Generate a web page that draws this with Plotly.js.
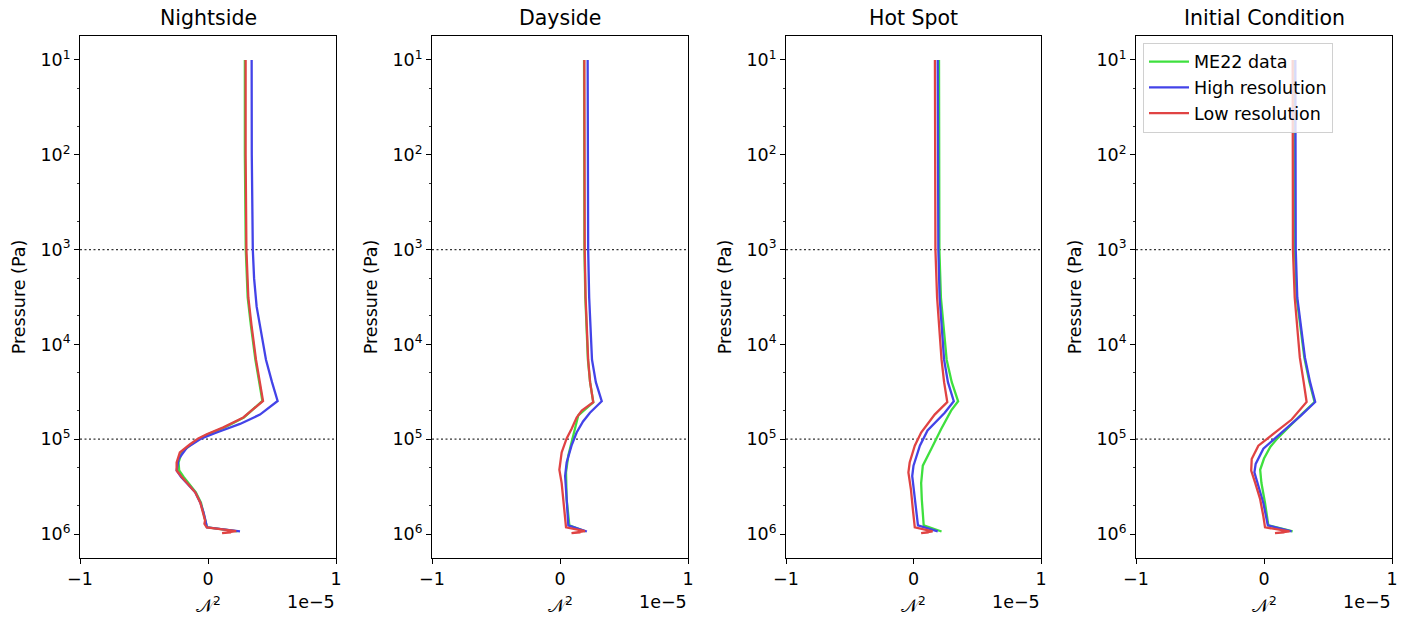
<!DOCTYPE html>
<html>
<head>
<meta charset="utf-8">
<script src="https://cdn.plot.ly/plotly-3.0.1.min.js"></script>
<style>html,body{margin:0;padding:0;background:#fff;}#chart{width:1408px;height:619px;}</style>
</head>
<body>
<div id="chart"></div>
<script>
// ---------------- DATA (N^2 in units of 1e-5, pressure in Pa) ----------------
const panelTitles = ["Nightside", "Dayside", "Hot Spot", "Initial Condition"];
const seriesNames = ["ME22 data", "High resolution", "Low resolution"];
const xTickVals = [-1, 0, 1];
const xTickText = ["\u22121", "0", "1"];
const yTickVals = [1e1, 1e2, 1e3, 1e4, 1e5, 1e6];
const yTickText = ["10<sup>1</sup>", "10<sup>2</sup>", "10<sup>3</sup>", "10<sup>4</sup>", "10<sup>5</sup>", "10<sup>6</sup>"];
const refLevels = [1e3, 1e5];

// Nightside
const nightP_ME22 = [10, 100, 1000, 3.2e3, 6.3e3, 1.45e4, 2.5e4, 3.95e4, 5.9e4, 7.5e4, 8.85e4, 9.8e4, 1.13e5, 1.38e5, 1.76e5, 2.14e5, 2.5e5, 2.86e5, 3.63e5, 4.68e5, 5.9e5, 7.2e5, 8.5e5, 9.4e5];
const nightN_ME22 = [0.288, 0.288, 0.295, 0.31, 0.335, 0.37, 0.40, 0.425, 0.28, 0.13, 0.0, -0.065, -0.13, -0.205, -0.23, -0.225, -0.19, -0.155, -0.095, -0.055, -0.035, -0.02, -0.008, 0.23];
const nightP_High = [10, 100, 1000, 2e3, 4e3, 7.9e3, 1.45e4, 2.5e4, 3.95e4, 5.5e4, 6.9e4, 8.5e4, 9.8e4, 1.23e5, 1.62e5, 2.14e5, 2.5e5, 2.86e5, 3.63e5, 4.68e5, 5.9e5, 7.2e5, 8.5e5, 9.4e5];
const nightN_High = [0.341, 0.342, 0.35, 0.36, 0.38, 0.42, 0.453, 0.50, 0.544, 0.406, 0.25, 0.068, -0.05, -0.166, -0.23, -0.245, -0.21, -0.17, -0.10, -0.06, -0.035, -0.02, -0.008, 0.25];
const nightP_Low = [10, 100, 1000, 3.2e3, 6.3e3, 1.45e4, 2.5e4, 3.95e4, 5.9e4, 7.5e4, 8.85e4, 9.8e4, 1.13e5, 1.38e5, 1.76e5, 2.14e5, 2.5e5, 2.86e5, 3.63e5, 4.68e5, 5.9e5, 6.6e5, 7.2e5, 7.8e5, 8.5e5, 9.3e5, 9.8e5, 9.6e5];
const nightN_Low = [0.294, 0.294, 0.30, 0.315, 0.34, 0.375, 0.405, 0.43, 0.276, 0.12, -0.01, -0.076, -0.14, -0.22, -0.245, -0.245, -0.205, -0.166, -0.10, -0.06, -0.037, -0.03, -0.023, -0.028, -0.01, 0.22, 0.11, 0.18];

// Dayside
const dayP_ME22 = [10, 100, 1000, 3.2e3, 1.45e4, 2.5e4, 4.07e4, 5.6e4, 9.1e4, 1.48e5, 2.24e5, 4.3e5, 8.1e5, 9.4e5];
const dayN_ME22 = [0.188, 0.188, 0.191, 0.198, 0.218, 0.235, 0.26, 0.143, 0.104, 0.065, 0.047, 0.052, 0.073, 0.2];
const dayP_High = [10, 100, 1000, 3.2e3, 1.45e4, 2.5e4, 3.98e4, 5.25e4, 6.5e4, 8.5e4, 1.17e5, 1.76e5, 2.45e5, 4.3e5, 8.1e5, 9.4e5];
const dayN_High = [0.216, 0.216, 0.22, 0.228, 0.25, 0.28, 0.326, 0.234, 0.18, 0.13, 0.09, 0.052, 0.04, 0.052, 0.065, 0.21];
const dayP_Low = [10, 100, 1000, 3.2e3, 1.45e4, 2.5e4, 4.07e4, 5e4, 5.9e4, 7.8e4, 9.8e4, 1.38e5, 2.1e5, 2.9e5, 4.3e5, 6.5e5, 8.5e5, 9.3e5, 9.8e5, 9.6e5];
const dayN_Low = [0.19, 0.19, 0.193, 0.20, 0.22, 0.235, 0.26, 0.17, 0.13, 0.09, 0.052, 0.013, -0.005, 0.013, 0.026, 0.04, 0.047, 0.195, 0.09, 0.16];

// Hot Spot
const hotP_ME22 = [10, 100, 1000, 3.2e3, 1.45e4, 2.5e4, 3.98e4, 5e4, 7.8e4, 1.26e5, 1.9e5, 2.9e5, 4.3e5, 8.1e5, 9.4e5];
const hotN_ME22 = [0.20, 0.20, 0.203, 0.215, 0.26, 0.30, 0.35, 0.295, 0.217, 0.14, 0.073, 0.06, 0.065, 0.08, 0.22];
const hotP_High = [10, 100, 1000, 3.2e3, 1.45e4, 2.5e4, 3.98e4, 5.25e4, 8.1e4, 1.17e5, 1.9e5, 2.45e5, 4e5, 8.1e5, 9.4e5];
const hotN_High = [0.19, 0.19, 0.195, 0.205, 0.24, 0.27, 0.316, 0.245, 0.11, 0.05, 0.0, -0.01, 0.01, 0.035, 0.19];
const hotP_Low = [10, 100, 1000, 3.2e3, 1.45e4, 2.5e4, 4.05e4, 5.5e4, 8.5e4, 1.17e5, 1.76e5, 2.24e5, 3.4e5, 5.5e5, 8.5e5, 9.4e5, 9.8e5, 9.6e5];
const hotN_Low = [0.168, 0.168, 0.172, 0.185, 0.22, 0.24, 0.265, 0.166, 0.06, 0.01, -0.03, -0.04, -0.02, -0.005, 0.01, 0.15, 0.06, 0.12];

// Initial Condition
const initP_ME22 = [10, 100, 1000, 3.2e3, 1.38e4, 2.5e4, 4.05e4, 5.6e4, 8.1e4, 9.8e4, 1.2e5, 1.6e5, 2.1e5, 2.9e5, 4.7e5, 8.1e5, 9.4e5];
const initN_ME22 = [0.238, 0.238, 0.241, 0.255, 0.315, 0.355, 0.395, 0.285, 0.165, 0.105, 0.05, 0.0, -0.03, -0.02, 0.008, 0.034, 0.224];
const initP_High = [10, 100, 1000, 3.2e3, 1.38e4, 2.5e4, 4.05e4, 5.6e4, 8.1e4, 9.8e4, 1.26e5, 1.82e5, 2.24e5, 3.1e5, 4.7e5, 8.1e5, 9.4e5];
const initN_High = [0.245, 0.245, 0.248, 0.26, 0.32, 0.36, 0.40, 0.29, 0.16, 0.086, -0.005, -0.065, -0.075, -0.044, -0.005, 0.03, 0.216];
const initP_Low = [10, 100, 1000, 3.2e3, 1.38e4, 2.5e4, 4.05e4, 6.2e4, 8.5e4, 9.8e4, 1.17e5, 1.62e5, 2.14e5, 2.86e5, 4.3e5, 6.5e5, 8.5e5, 9.4e5, 9.8e5, 9.6e5];
const initN_Low = [0.224, 0.224, 0.226, 0.24, 0.28, 0.31, 0.333, 0.216, 0.086, 0.02, -0.044, -0.096, -0.10, -0.07, -0.03, -0.005, 0.008, 0.2, 0.086, 0.16];

// ---------------- BUILD ----------------
const panels = [
  [[nightN_ME22, nightP_ME22], [nightN_High, nightP_High], [nightN_Low, nightP_Low]],
  [[dayN_ME22, dayP_ME22], [dayN_High, dayP_High], [dayN_Low, dayP_Low]],
  [[hotN_ME22, hotP_ME22], [hotN_High, hotP_High], [hotN_Low, hotP_Low]],
  [[initN_ME22, initP_ME22], [initN_High, initP_High], [initN_Low, initP_Low]]
];
const colors = ["#3ee03e", "#4343e8", "#e04343"];
const W = 1408;
const domainsPx = [[80, 336], [432, 688], [786, 1041], [1136, 1392]];
const font = "DejaVu Sans, Liberation Sans, sans-serif";

const traces = [];
const layout = {
  width: 1408, height: 619,
  margin: {l: 0, r: 0, t: 36, b: 61},
  paper_bgcolor: "#fff", plot_bgcolor: "#fff",
  font: {family: font, size: 18, color: "#000"},
  showlegend: true,
  legend: {
    x: 1143 / W, y: 0.987, xanchor: "left", yanchor: "top",
    bgcolor: "rgba(255,255,255,0.8)", bordercolor: "#d0d0d0", borderwidth: 1,
    font: {family: font, size: 17.5}, itemwidth: 40, tracegroupgap: 0
  },
  annotations: [],
  hovermode: false
};

panels.forEach((series, i) => {
  const k = i === 0 ? "" : String(i + 1);
  const xa = "x" + k, ya = "y" + k;
  refLevels.forEach(lv => {
    traces.push({x: [-1, 1], y: [lv, lv], xaxis: xa, yaxis: ya, mode: "lines",
      line: {color: "#333", width: 1.3, dash: "2px,2.5px"}, showlegend: false, hoverinfo: "skip"});
  });
  series.forEach((s, j) => {
    traces.push({x: s[0], y: s[1], xaxis: xa, yaxis: ya, mode: "lines",
      name: seriesNames[j], showlegend: i === 3,
      line: {color: colors[j], width: 2.3}});
  });
  const d = domainsPx[i];
  layout["xaxis" + k] = {
    domain: [d[0] / W, d[1] / W], anchor: ya, range: [-1, 1],
    tickvals: xTickVals, ticktext: xTickText, ticks: "outside", ticklen: 5, tickwidth: 1,
    tickcolor: "#000", showline: true, mirror: true, linecolor: "#000", linewidth: 1,
    showgrid: false, zeroline: false, tickfont: {size: 17.5}
  };
  layout["yaxis" + k] = {
    anchor: xa, type: "log", range: [6.253, 0.747],
    tickvals: yTickVals, ticktext: yTickText, ticks: "outside", ticklen: 5, tickwidth: 1,
    tickcolor: "#000", showline: true, mirror: true, linecolor: "#000", linewidth: 1,
    showgrid: false, zeroline: false, tickfont: {size: 17.5},
    minor: {ticks: "outside", ticklen: 2.5, tickcolor: "#000", tickwidth: 0.8, showgrid: false},
    title: {text: "Pressure (Pa)", font: {size: 17.5}, standoff: 10}
  };
  layout.annotations.push({text: panelTitles[i], xref: "x" + k + " domain", yref: "paper",
    x: 0.5, y: 1 + 18 / 522, xanchor: "center", yanchor: "middle", showarrow: false,
    font: {size: 20.5}});
  layout.annotations.push({text: "\uD835\uDCA9<sup>2</sup>", xref: "x" + k + " domain", yref: "paper",
    x: 0.5, y: -47 / 522, xanchor: "center", yanchor: "middle", showarrow: false,
    font: {size: 17.5}});
  layout.annotations.push({text: "1e\u22125", xref: "x" + k + " domain", yref: "paper",
    x: 1.005, y: -44 / 522, xanchor: "right", yanchor: "middle", showarrow: false,
    font: {size: 17.5}});
});

Plotly.newPlot("chart", traces, layout, {staticPlot: true});
</script>
</body>
</html>
